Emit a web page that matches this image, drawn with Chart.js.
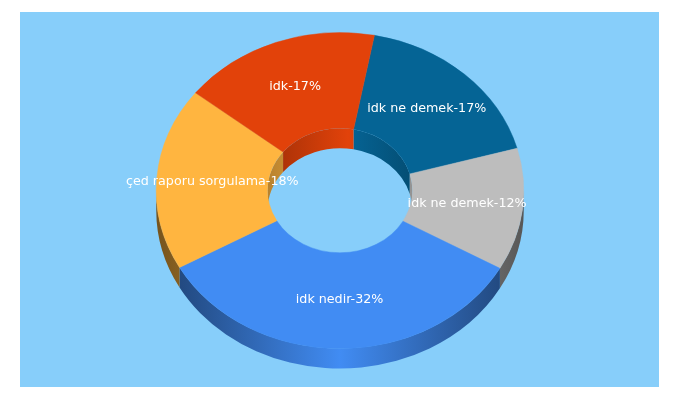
<!DOCTYPE html>
<html>
<head>
<meta charset="utf-8">
<script src="https://cdn.jsdelivr.net/npm/chart.js@4"></script>
<style>
html,body{margin:0;padding:0;background:#fff;width:680px;height:400px;overflow:hidden}
#plate{position:absolute;left:20px;top:12px;width:639px;height:375px;background:#87CEFA}
canvas{position:absolute;left:0;top:0}
</style>
</head>
<body>
<div id="plate"></div>
<canvas id="c" width="680" height="400"></canvas>
<script>
const categories = ['idk ne demek', 'idk ne demek', 'idk nedir', 'çed raporu sorgulama', 'idk'];
const shownPercents = [17, 12, 32, 18, 17];
const values = [17.7, 12.5, 33.7, 18.7, 17.4];
const colors = ['#056495', '#BDBDBD', '#418CF3', '#FFB540', '#E2420A'];

const SQUASH = 0.86, DEPTH = 20;

function shade(hex, f) {
  const n = parseInt(hex.slice(1), 16);
  const c = [n >> 16, (n >> 8) & 255, n & 255].map(v => Math.round(v * f));
  return `rgb(${c[0]},${c[1]},${c[2]})`;
}
function wallGradient(ctx, hex, cx, r, edge) {
  const g = ctx.createLinearGradient(cx - r, 0, cx + r, 0);
  g.addColorStop(0, shade(hex, edge));
  g.addColorStop(0.5, shade(hex, 1));
  g.addColorStop(1, shade(hex, edge));
  return g;
}
function wallPath(ctx, cx, cy, r, a0, a1) {
  const ry = r * SQUASH;
  ctx.beginPath();
  ctx.ellipse(cx, cy, r, ry, 0, a0, a1, false);
  ctx.ellipse(cx, cy + DEPTH, r, ry, 0, a1, a0, true);
  ctx.closePath();
}
const extrude = {
  id: 'extrude',
  beforeDatasetsDraw(chart) {
    const ctx = chart.ctx, arcs = chart.getDatasetMeta(0).data;
    const cx = arcs[0].x, cy = arcs[0].y, R = arcs[0].outerRadius;
    arcs.forEach((a, i) => {
      const s = Math.max(a.startAngle, 0), e = Math.min(a.endAngle, Math.PI);
      if (e > s) {
        wallPath(ctx, cx, cy, R, s, e);
        ctx.fillStyle = wallGradient(ctx, colors[i], cx, R, 0.46);
        ctx.fill();
      }
    });
    ctx.save();
    ctx.translate(cx, cy);
    ctx.scale(1, SQUASH);
    ctx.translate(-cx, -cy);
  },
  afterDatasetsDraw(chart) {
    const ctx = chart.ctx, arcs = chart.getDatasetMeta(0).data;
    ctx.restore();
    const cx = arcs[0].x, cy = arcs[0].y, r = arcs[0].innerRadius;
    ctx.save();
    ctx.beginPath();
    ctx.ellipse(cx, cy, r, r * SQUASH, 0, 0, Math.PI * 2);
    ctx.clip();
    arcs.forEach((a, i) => {
      [[-Math.PI, 0], [Math.PI, 2 * Math.PI]].forEach(([lo, hi]) => {
        const s = Math.max(a.startAngle, lo), e = Math.min(a.endAngle, hi);
        if (e > s) {
          wallPath(ctx, cx, cy, r, s, e);
          ctx.fillStyle = wallGradient(ctx, colors[i], cx + 8, r + 8, 0.72);
          ctx.fill();
        }
      });
    });
    ctx.restore();
  },
  afterDraw(chart) {
    const ctx = chart.ctx, arcs = chart.getDatasetMeta(0).data;
    ctx.save();
    ctx.font = '12.7px "DejaVu Sans"';
    ctx.fillStyle = '#fff';
    ctx.textAlign = 'center';
    ctx.textBaseline = 'middle';
    arcs.forEach((a, i) => {
      const mid = (a.startAngle + a.endAngle) / 2, r = (a.innerRadius + a.outerRadius) / 2;
      ctx.fillText(categories[i] + '-' + shownPercents[i] + '%',
        a.x + Math.cos(mid) * r,
        a.y + Math.sin(mid) * r * SQUASH - 0.5);
    });
    ctx.restore();
  }
};

new Chart(document.getElementById('c'), {
  type: 'doughnut',
  data: {
    labels: categories,
    datasets: [{ data: values, backgroundColor: colors, borderColor: colors, borderWidth: 0.5, hoverOffset: 0, clip: false }]
  },
  options: {
    responsive: false,
    animation: false,
    rotation: 10.8,
    cutout: '39.4%',
    layout: { padding: { top: 6.5, bottom: 25.5, left: 0, right: 0 } },
    events: [],
    plugins: { legend: { display: false }, tooltip: { enabled: false } }
  },
  plugins: [extrude]
});
</script>
</body>
</html>
